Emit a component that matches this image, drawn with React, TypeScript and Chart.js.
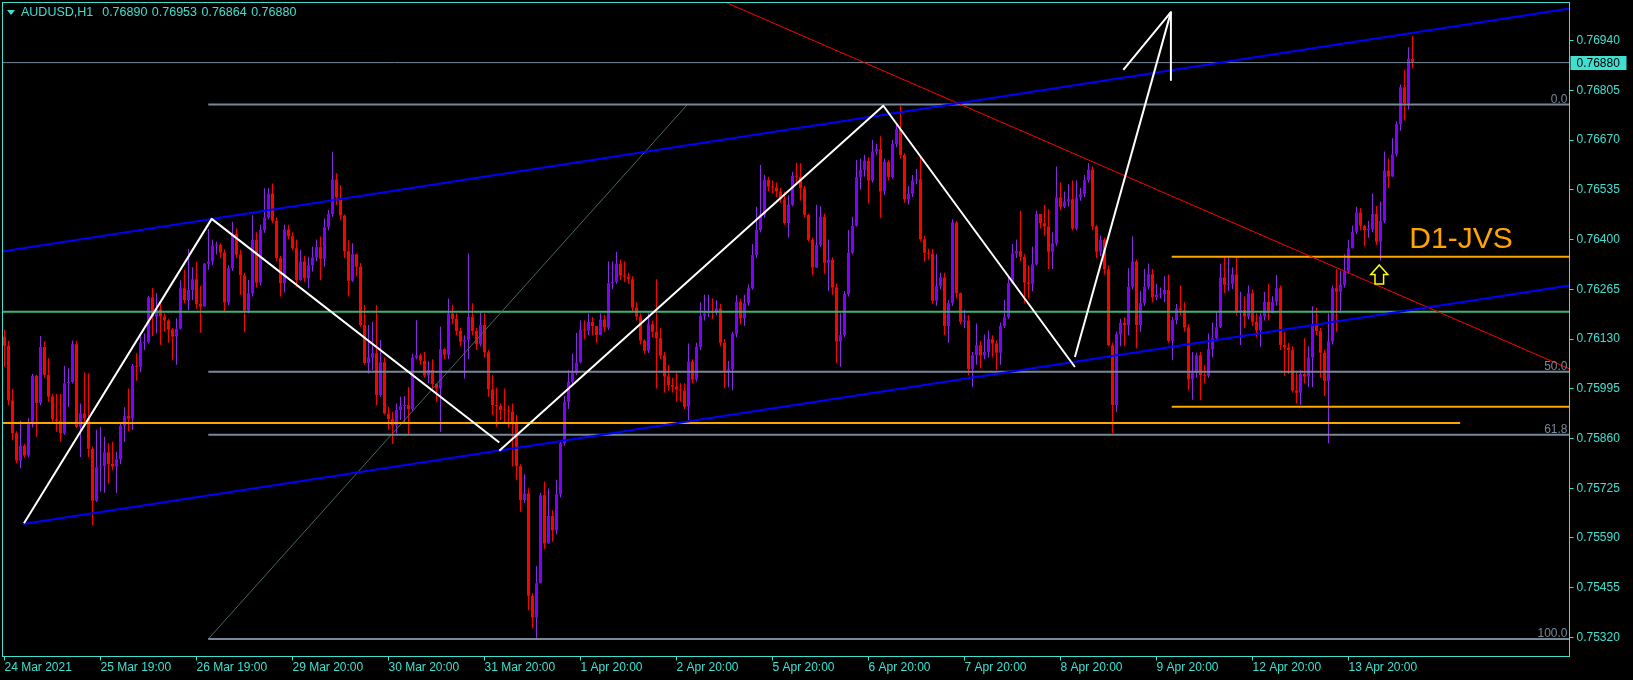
import React, { useEffect, useRef } from "react";
import { Chart, registerables } from "chart.js";

Chart.register(...registerables);

// ---------- data (prices in units of 0.00001) ----------
const SYMBOL = "AUDUSD,H1";
const HEADER_OHLC = ["0.76890", "0.76953", "0.76864", "0.76880"];
const PRICE_UNIT = 100000;
const FIRST_OPEN = 76137;

const CLOSES = [
  76112, 75963, 75874, 75800, 75840, 75814, 75899, 76030, 75956, 76108, 76033, 75974,
  75912, 75908, 75874, 76010, 76013, 76116, 75892, 75928, 75915, 75832, 75691, 75782,
  75785, 75823, 75791, 75784, 75804, 75894, 75921, 75914, 76057, 76055, 76120, 76122,
  76243, 76191, 76211, 76191, 76180, 76156, 76137, 76158, 76268, 76236, 76263, 76292,
  76225, 76218, 76334, 76340, 76383, 76386, 76365, 76229, 76322, 76415, 76359, 76303,
  76207, 76254, 76399, 76283, 76426, 76460, 76525, 76451, 76350, 76281, 76427, 76409,
  76376, 76290, 76340, 76295, 76330, 76351, 76379, 76348, 76433, 76469, 76563, 76514,
  76465, 76368, 76288, 76360, 76326, 76168, 76065, 76080, 76091, 75978, 76067, 75928,
  75913, 75895, 75937, 75948, 75951, 75940, 76080, 76086, 76071, 76031, 76046, 76008,
  75996, 76102, 76087, 76199, 76185, 76152, 76123, 76127, 76190, 76152, 76116, 76168,
  76094, 75993, 75951, 75948, 75937, 75936, 75933, 75903, 75785, 75693, 75711, 75433,
  75374, 75467, 75706, 75575, 75650, 75611, 75709, 75847, 75960, 76014, 76037, 76066,
  76156, 76153, 76176, 76165, 76141, 76183, 76161, 76281, 76285, 76334, 76302, 76299,
  76292, 76215, 76191, 76126, 76098, 76170, 76150, 76132, 76085, 76028, 76005, 76001,
  75993, 75990, 75946, 76069, 76020, 76109, 76193, 76200, 76206, 76202, 76213, 76120,
  76044, 76048, 76144, 76231, 76186, 76227, 76268, 76358, 76426, 76467, 76562, 76544,
  76541, 76530, 76509, 76445, 76494, 76573, 76570, 76539, 76467, 76399, 76324, 76385,
  76462, 76337, 76345, 76270, 76123, 76141, 76252, 76364, 76437, 76569, 76589, 76614,
  76560, 76639, 76645, 76530, 76611, 76569, 76659, 76699, 76629, 76509, 76524, 76560,
  76563, 76401, 76364, 76361, 76234, 76274, 76297, 76165, 76227, 76446, 76254, 76177,
  76180, 76048, 76086, 76113, 76085, 76095, 76129, 76118, 76093, 76165, 76189, 76281,
  76362, 76369, 76353, 76283, 76280, 76333, 76469, 76444, 76435, 76367, 76389, 76514,
  76489, 76503, 76509, 76430, 76514, 76523, 76561, 76589, 76435, 76367, 76399, 76319,
  76113, 75951, 76143, 76174, 76167, 76272, 76340, 76168, 76227, 76272, 76306, 76243,
  76250, 76252, 76263, 76125, 76181, 76213, 76208, 76161, 76020, 76038, 76086, 76032,
  76030, 76102, 76132, 76162, 76297, 76277, 76280, 76306, 76204, 76209, 76191, 76254,
  76177, 76154, 76192, 76231, 76200, 76231, 76268, 76114, 76107, 76100, 75990, 75984,
  76035, 76028, 76080, 76171, 76152, 76093, 76017, 76123, 76268, 76258, 76277, 76313,
  76376, 76421, 76473, 76437, 76426, 76428, 76469, 76394, 76450, 76587, 76571, 76631,
  76713, 76813, 76770, 76890, 76880,
];

const HIGHS = [
  76156, 76125, 75995, 75880, 75908, 75845, 75915, 76035, 76032, 76138, 76123, 76078,
  75980, 75981, 75981, 76057, 76050, 76126, 76125, 75955, 76040, 76037, 75838, 75883,
  75892, 75865, 75847, 75851, 75824, 75900, 75945, 75996, 76062, 76091, 76137, 76145,
  76247, 76268, 76254, 76232, 76200, 76185, 76160, 76186, 76289, 76317, 76374, 76325,
  76339, 76274, 76336, 76428, 76400, 76394, 76390, 76373, 76330, 76448, 76430, 76372,
  76310, 76290, 76466, 76420, 76440, 76539, 76539, 76552, 76460, 76355, 76440, 76440,
  76420, 76400, 76372, 76356, 76353, 76380, 76400, 76408, 76457, 76480, 76638, 76580,
  76548, 76468, 76398, 76390, 76360, 76336, 76222, 76168, 76177, 76222, 76127, 76080,
  75946, 75932, 75955, 75973, 75975, 76000, 76090, 76181, 76090, 76095, 76070, 76075,
  76010, 76163, 76105, 76240, 76223, 76200, 76160, 76140, 76362, 76227, 76160, 76204,
  76200, 76100, 76032, 75998, 75955, 75996, 75950, 75955, 75924, 75790, 75763, 75725,
  75440, 75514, 75713, 75743, 75725, 75665, 75748, 75853, 75975, 76045, 76090, 76147,
  76180, 76180, 76200, 76190, 76160, 76200, 76195, 76340, 76340, 76367, 76345, 76340,
  76310, 76300, 76230, 76200, 76130, 76200, 76180, 76292, 76160, 76095, 76060, 76025,
  76040, 76010, 76010, 76118, 76075, 76120, 76230, 76250, 76250, 76240, 76235, 76225,
  76130, 76070, 76150, 76249, 76240, 76250, 76278, 76388, 76489, 76602, 76575, 76570,
  76560, 76555, 76540, 76530, 76520, 76584, 76608, 76607, 76545, 76470, 76405, 76494,
  76490, 76470, 76400, 76352, 76280, 76200, 76260, 76426, 76462, 76616, 76620, 76630,
  76623, 76670, 76660, 76680, 76620, 76615, 76670, 76710, 76763, 76635, 76545, 76575,
  76591, 76625, 76410, 76375, 76375, 76360, 76310, 76310, 76235, 76455, 76450, 76256,
  76210, 76195, 76095, 76172, 76125, 76142, 76153, 76140, 76125, 76175, 76236, 76300,
  76388, 76400, 76478, 76360, 76330, 76380, 76478, 76470, 76494, 76482, 76420, 76598,
  76555, 76530, 76550, 76560, 76560, 76540, 76575, 76607, 76598, 76440, 76410, 76405,
  76330, 76120, 76150, 76185, 76190, 76322, 76408, 76345, 76260, 76320, 76335, 76320,
  76280, 76270, 76300, 76305, 76190, 76225, 76276, 76230, 76170, 76095, 76093, 76095,
  76060, 76145, 76175, 76205, 76335, 76350, 76350, 76325, 76352, 76258, 76245, 76275,
  76265, 76200, 76200, 76258, 76279, 76246, 76304, 76275, 76150, 76120, 76110, 76040,
  76045, 76132, 76110, 76219, 76215, 76160, 76100, 76200, 76275, 76320, 76315, 76360,
  76399, 76438, 76489, 76485, 76440, 76450, 76525, 76491, 76503, 76639, 76620, 76675,
  76720, 76820, 76860, 76922, 76953,
];

const LOWS = [
  76055, 75950, 75856, 75793, 75779, 75808, 75810, 75890, 75865, 75950, 76025, 75960,
  75900, 75878, 75852, 75870, 75945, 76010, 75888, 75810, 75905, 75810, 75625, 75688,
  75716, 75713, 75738, 75774, 75713, 75790, 75851, 75880, 75883, 76017, 76040, 76100,
  76118, 76138, 76145, 76114, 76150, 76120, 76072, 76060, 76156, 76227, 76209, 76236,
  76213, 76147, 76218, 76318, 76330, 76360, 76350, 76204, 76222, 76315, 76350, 76250,
  76148, 76200, 76245, 76270, 76275, 76418, 76455, 76445, 76340, 76245, 76256, 76400,
  76370, 76272, 76288, 76285, 76267, 76313, 76340, 76290, 76326, 76425, 76462, 76494,
  76452, 76350, 76245, 76285, 76300, 76163, 76060, 76036, 76045, 75950, 75973, 75925,
  75883, 75845, 75874, 75910, 75900, 75870, 75935, 76075, 76060, 76025, 76010, 75990,
  75960, 75878, 76075, 76075, 76170, 76140, 76110, 76023, 76075, 76140, 76100, 76110,
  76080, 75973, 75924, 75892, 75910, 75901, 75890, 75785, 75747, 75661, 75685, 75394,
  75345, 75317, 75468, 75560, 75575, 75580, 75600, 75700, 75840, 75940, 76005, 76032,
  76064, 76130, 76140, 76140, 76120, 76143, 76150, 76155, 76265, 76280, 76290, 76285,
  76280, 76205, 76180, 76115, 76090, 76092, 76135, 75996, 76075, 75985, 75990, 75985,
  75960, 75960, 75940, 75910, 76010, 76015, 76100, 76180, 76190, 76185, 76195, 76110,
  75997, 75999, 75991, 76135, 76170, 76165, 76220, 76264, 76350, 76420, 76460, 76530,
  76525, 76515, 76500, 76440, 76405, 76490, 76553, 76506, 76460, 76395, 76304, 76323,
  76380, 76308, 76260, 76250, 76064, 76055, 76135, 76245, 76360, 76435, 76535, 76570,
  76498, 76555, 76630, 76459, 76520, 76560, 76565, 76650, 76620, 76500, 76495, 76515,
  76550, 76395, 76340, 76345, 76225, 76220, 76265, 76141, 76120, 76220, 76240, 76170,
  76160, 76032, 76000, 76060, 76050, 76075, 76080, 76080, 76046, 76060, 76160, 76185,
  76280, 76350, 76340, 76227, 76240, 76260, 76330, 76430, 76410, 76320, 76320, 76383,
  76480, 76485, 76490, 76425, 76425, 76505, 76515, 76555, 76425, 76350, 76355, 76305,
  76110, 75874, 75932, 76110, 76110, 76140, 76265, 76105, 76150, 76220, 76265, 76230,
  76235, 76240, 76230, 76120, 76073, 76170, 76195, 76150, 75991, 75965, 76025, 75964,
  76010, 76025, 76080, 76125, 76160, 76255, 76260, 76266, 76195, 76114, 76160, 76183,
  76165, 76135, 76109, 76180, 76180, 76200, 76220, 76100, 76030, 76035, 75985, 75955,
  75951, 76010, 76000, 76000, 76140, 76025, 75975, 75847, 76115, 76150, 76200, 76270,
  76307, 76376, 76415, 76425, 76382, 76405, 76420, 76385, 76343, 76445, 76540, 76570,
  76625, 76695, 76723, 76753, 76864,
];

const X_TICK_INDEX = [0, 24, 48, 72, 96, 120, 144, 168, 192, 216, 240, 264, 288, 312, 336];
const X_TICK_LABELS = [
  "24 Mar 2021", "25 Mar 19:00", "26 Mar 19:00", "29 Mar 20:00", "30 Mar 20:00",
  "31 Mar 20:00", "1 Apr 20:00", "2 Apr 20:00", "5 Apr 20:00", "6 Apr 20:00",
  "7 Apr 20:00", "8 Apr 20:00", "9 Apr 20:00", "12 Apr 20:00", "13 Apr 20:00",
];
const Y_TICKS = [
  0.7694, 0.76805, 0.7667, 0.76535, 0.764, 0.76265, 0.7613,
  0.75995, 0.7586, 0.75725, 0.7559, 0.75455, 0.7532,
];
const X_MIN = -0.5;
const X_MAX = 391.25;
const Y_MIN = 0.7526844;
const Y_MAX = 0.7704312;

const CURRENT_PRICE = 0.7688;
const GREEN_LEVEL = 0.76204;

const FIB_LABELS = ["0.0", "50.0", "61.8", "100.0"];
const FIB_PRICES = [0.76766, 0.76041, 0.7587, 0.75316];
const FIB_START = 50.95;
const FIB_TREND = [{ x: 50.95, y: 0.75316 }, { x: 170.7, y: 0.76766 }];

const ORANGE_LEVELS = [
  { from: 291.8, to: X_MAX, price: 0.76353 },
  { from: 291.8, to: X_MAX, price: 0.75946 },
  { from: X_MIN, to: 363.9, price: 0.75902 },
];

const CHANNEL_UPPER = [{ x: -1, y: 0.76367 }, { x: 391.25, y: 0.77027 }];
const CHANNEL_LOWER = [{ x: 4.625, y: 0.75628 }, { x: 391.25, y: 0.76275 }];
const RED_TREND = [{ x: 170, y: 0.77092 }, { x: 391.25, y: 0.76049 }];

const ZIGZAG_A = [{ x: 4.875, y: 0.7563 }, { x: 51.8, y: 0.76456 }, { x: 123.7, y: 0.75849 }];
const ZIGZAG_B = [{ x: 123.7, y: 0.75827 }, { x: 219.7, y: 0.76763 }, { x: 267.6, y: 0.76054 }];
const ARROW_SHAFT = [{ x: 267.6, y: 0.76081 }, { x: 291.6, y: 0.77017 }];
const ARROW_HEAD = [{ x: 279.7, y: 0.7686 }, { x: 291.6, y: 0.77017 }, { x: 291.6, y: 0.76833 }];

const LABEL_TEXT = "D1-JVS";
const LABEL_ANCHOR = { x: 351.2, y: 0.76377 };
const UP_ARROW_ANCHOR = { x: 343.7, y: 0.76331 };

// ---------- colours ----------
const CYAN = "#40E0D0";
const BULL = "#7F00FF";
const BULL_WICK = "#8A2BE2";
const BEAR = "#FF0000";
const GREY = "#778899";
const FONT = "Liberation Sans";

const OPENS = CLOSES.map((_, i) => (i === 0 ? FIRST_OPEN : CLOSES[i - 1]));

function lineDs(data: { x: number; y: number }[], color: string, width: number, order: number, dash: number[] = []) {
  return {
    type: "line" as const,
    data,
    borderColor: color,
    borderWidth: width,
    borderDash: dash,
    borderJoinStyle: "round" as const,
    pointRadius: 0,
    fill: false,
    tension: 0,
    order,
    clip: 0,
  };
}

const overlayPlugin = {
  id: "mtOverlay",
  afterDatasetsDraw(chart: any) {
    const { ctx, chartArea, scales } = chart;
    const xs = scales.x;
    const ys = scales.y;
    ctx.save();
    // fib level labels
    ctx.font = `12px "${FONT}"`;
    ctx.fillStyle = GREY;
    ctx.textAlign = "right";
    ctx.textBaseline = "alphabetic";
    FIB_PRICES.forEach((p, i) => {
      ctx.fillText(FIB_LABELS[i], chartArea.right - 2, ys.getPixelForValue(p) - 2);
    });
    // D1-JVS text
    ctx.font = `30px "${FONT}"`;
    ctx.fillStyle = "#FFA500";
    ctx.textAlign = "left";
    ctx.fillText(LABEL_TEXT, xs.getPixelForValue(LABEL_ANCHOR.x), ys.getPixelForValue(LABEL_ANCHOR.y));
    // yellow up arrow
    const cx = xs.getPixelForValue(UP_ARROW_ANCHOR.x);
    const ty = ys.getPixelForValue(UP_ARROW_ANCHOR.y);
    ctx.beginPath();
    ctx.moveTo(cx, ty);
    ctx.lineTo(cx + 8.5, ty + 9.5);
    ctx.lineTo(cx + 4.3, ty + 9.5);
    ctx.lineTo(cx + 4.3, ty + 19);
    ctx.lineTo(cx - 4.3, ty + 19);
    ctx.lineTo(cx - 4.3, ty + 9.5);
    ctx.lineTo(cx - 8.5, ty + 9.5);
    ctx.closePath();
    ctx.strokeStyle = "#FFFF00";
    ctx.lineWidth = 1.5;
    ctx.stroke();
    ctx.restore();
  },
  afterDraw(chart: any) {
    const { ctx, chartArea, scales } = chart;
    ctx.save();
    ctx.strokeStyle = CYAN;
    ctx.lineWidth = 1;
    ctx.strokeRect(chartArea.left, chartArea.top, chartArea.right - chartArea.left, chartArea.bottom - chartArea.top);
    const py = scales.y.getPixelForValue(CURRENT_PRICE);
    ctx.fillStyle = CYAN;
    ctx.fillRect(chartArea.right + 1, Math.round(py) - 7, 56, 14);
    ctx.fillStyle = "#000";
    ctx.font = `12px "${FONT}"`;
    ctx.textAlign = "left";
    ctx.textBaseline = "middle";
    ctx.fillText(CURRENT_PRICE.toFixed(5), chartArea.right + 7, Math.round(py) + 0.5);
    ctx.restore();
  },
};

export default function App() {
  const ref = useRef<HTMLCanvasElement>(null);

  useEffect(() => {
    document.body.style.margin = "0";
    document.body.style.background = "#000";
    const bodyColors = CLOSES.map((c, i) => (c > OPENS[i] ? BULL : BEAR));
    const wickColors = CLOSES.map((c, i) => (c > OPENS[i] ? BULL_WICK : BEAR));
    const bodies = CLOSES.map((c, i) => ({ x: i, y: [OPENS[i] / PRICE_UNIT, c / PRICE_UNIT] }));
    const wicks = CLOSES.map((c, i) => ({
      x: i,
      y: [
        Math.min(LOWS[i], OPENS[i], c) / PRICE_UNIT,
        Math.max(HIGHS[i], OPENS[i], c) / PRICE_UNIT,
      ],
    }));
    const hline = (from: number, to: number, price: number) => [
      { x: from, y: price },
      { x: to, y: price },
    ];

    const datasets: any[] = [
      {
        type: "bar",
        data: wicks,
        backgroundColor: wickColors,
        barThickness: 1,
        maxBarThickness: 1,
        grouped: false,
        borderWidth: 0,
        inflateAmount: 0,
        minBarLength: 1,
        order: 21,
      },
      {
        type: "bar",
        data: bodies,
        backgroundColor: bodyColors,
        barThickness: 3,
        maxBarThickness: 3,
        grouped: false,
        borderWidth: 0,
        inflateAmount: 0,
        minBarLength: 1,
        order: 20,
      },
      lineDs(hline(X_MIN, X_MAX, GREEN_LEVEL), "#3CB371", 2, 9),
      lineDs(hline(X_MIN, X_MAX, CURRENT_PRICE), GREY, 1, 9),
      ...FIB_PRICES.map((p) => lineDs(hline(FIB_START, X_MAX, p), GREY, 2, 8)),
      lineDs(FIB_TREND, "#4A6666", 1, 8),
      ...ORANGE_LEVELS.map((o) => lineDs(hline(o.from, o.to, o.price), "#FFA500", 2, 7)),
      lineDs(RED_TREND, "#FF0000", 1, 6),
      lineDs(CHANNEL_UPPER, "#0000FF", 2, 5),
      lineDs(CHANNEL_LOWER, "#0000FF", 2, 5),
      lineDs(ZIGZAG_A, "#FFFFFF", 2, 4),
      lineDs(ZIGZAG_B, "#FFFFFF", 2, 4),
      lineDs(ARROW_SHAFT, "#FFFFFF", 2, 4),
      lineDs(ARROW_HEAD, "#FFFFFF", 2, 4),
    ];

    const chart = new Chart(ref.current as HTMLCanvasElement, {
      type: "bar",
      data: { datasets },
      options: {
        responsive: false,
        devicePixelRatio: 1,
        animation: false,
        events: [],
        layout: { padding: { left: 2.5, top: 2.5, right: 0, bottom: 0 }, autoPadding: false },
        plugins: { legend: { display: false }, tooltip: { enabled: false }, title: { display: false } },
        scales: {
          x: {
            type: "linear",
            min: X_MIN,
            max: X_MAX,
            bounds: "data",
            offset: false,
            grid: {
              display: true,
              offset: false,
              drawOnChartArea: false,
              drawTicks: true,
              tickLength: 4,
              color: CYAN,
              lineWidth: 1,
            },
            border: { display: false },
            afterBuildTicks: (s: any) => {
              s.ticks = X_TICK_INDEX.map((v) => ({ value: v }));
            },
            afterFit: (s: any) => {
              s.height = 23.5;
              s.paddingLeft = 0;
              s.paddingRight = 0;
            },
            ticks: {
              autoSkip: false,
              maxRotation: 0,
              minRotation: 0,
              align: "start",
              padding: 0,
              color: CYAN,
              font: { family: FONT, size: 12 },
              callback: (_v: any, i: number) => X_TICK_LABELS[i],
            },
          },
          y: {
            type: "linear",
            position: "right",
            min: Y_MIN,
            max: Y_MAX,
            bounds: "data",
            beginAtZero: false,
            grid: {
              display: true,
              drawOnChartArea: false,
              drawTicks: true,
              tickLength: 4,
              color: CYAN,
              lineWidth: 1,
            },
            border: { display: false },
            afterBuildTicks: (s: any) => {
              s.ticks = Y_TICKS.map((v) => ({ value: v }));
            },
            afterFit: (s: any) => {
              s.width = 63.5;
              s.paddingTop = 0;
              s.paddingBottom = 0;
            },
            ticks: {
              autoSkip: false,
              padding: 3,
              color: CYAN,
              font: { family: FONT, size: 12 },
              callback: (v: any) => Number(v).toFixed(5),
            },
          },
        },
      },
      plugins: [overlayPlugin],
    } as any);

    return () => chart.destroy();
  }, []);

  return (
    <div
      style={{
        position: "fixed",
        left: 0,
        top: 0,
        width: 1633,
        height: 680,
        background: "#000",
        overflow: "hidden",
      }}
    >
      <canvas ref={ref} width={1633} height={680} style={{ display: "block", width: 1633, height: 680 }} />
      <div
        style={{
          position: "absolute",
          left: 7,
          top: 10,
          width: 0,
          height: 0,
          borderLeft: "4px solid transparent",
          borderRight: "4px solid transparent",
          borderTop: "5px solid " + CYAN,
        }}
      />
      <div
        style={{
          position: "absolute",
          left: 21,
          top: 5,
          font: `12.5px "${FONT}"`,
          lineHeight: "15px",
          color: CYAN,
          whiteSpace: "pre",
          wordSpacing: "1px",
        }}
      >
        {`${SYMBOL}  ${HEADER_OHLC.join(" ")}`}
      </div>
    </div>
  );
}
